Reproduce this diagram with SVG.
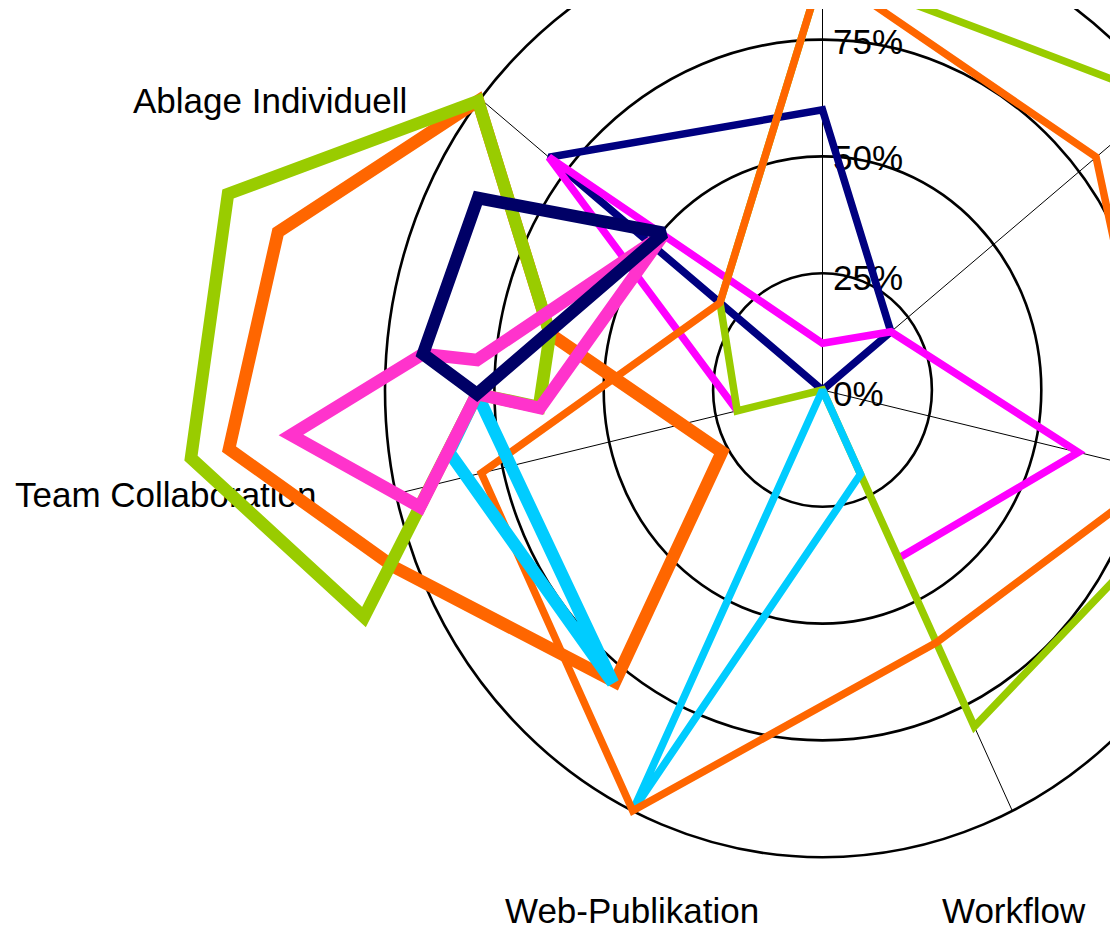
<svg xmlns="http://www.w3.org/2000/svg" width="1110" height="931" viewBox="0 0 1110 931">
<defs>
<clipPath id="plot"><rect x="0" y="9" width="1110" height="922"/></clipPath>
<style>
.ring{fill:none;stroke:#000;stroke-width:2.6}
.axis{stroke:#000;stroke-width:1}
.lbl{font-family:"Liberation Sans",Arial,sans-serif;font-size:35px;fill:#000}
.thin{fill:none;stroke-width:7.5;stroke-linejoin:miter;stroke-miterlimit:2}
.thick{fill:none;stroke-width:12.5;stroke-linejoin:miter;stroke-miterlimit:2}
</style>
</defs>
<rect width="1110" height="931" fill="#fff"/>
<g id="grid" clip-path="url(#plot)">
<ellipse class="ring" cx="822.5" cy="390" rx="109.4" ry="116.8"/>
<ellipse class="ring" cx="822.5" cy="390" rx="218.8" ry="233.6"/>
<ellipse class="ring" cx="822.5" cy="390" rx="328.1" ry="350.4"/>
<ellipse class="ring" cx="822.5" cy="390" rx="437.5" ry="467.2"/>
<line class="axis" x1="822.5" y1="390" x2="822.5" y2="-77"/>
<line class="axis" x1="822.5" y1="390" x2="1164.5" y2="99"/>
<line class="axis" x1="822.5" y1="390" x2="1248.9" y2="493.9"/>
<line class="axis" x1="822.5" y1="390" x2="1012.3" y2="810.8"/>
<line class="axis" x1="822.5" y1="390" x2="632.7" y2="810.8"/>
<line class="axis" x1="822.5" y1="390" x2="396.1" y2="493.9"/>
<line class="axis" x1="822.5" y1="390" x2="480.5" y2="99"/>
</g>
<g id="labels">
<text class="lbl" x="833" y="54">75%</text>
<text class="lbl" x="833" y="170">50%</text>
<text class="lbl" x="833" y="290">25%</text>
<text class="lbl" x="833" y="406">0%</text>
<text class="lbl" x="133" y="113">Ablage Individuell</text>
<text class="lbl" x="15" y="507">Team Collaboration</text>
<text class="lbl" x="505" y="923">Web-Publikation</text>
<text class="lbl" x="942" y="923">Workflow</text>
</g>
<g id="series-thin" clip-path="url(#plot)">
<path class="thin" stroke="#000080" d="M822.5,109.8 L890.9,331.8 L822.5,390 L548.9,157.2 Z"/>
<path class="thin" stroke="#FF00FF" d="M737.2,410.8 L548.9,157.2 L822.5,343.3 L890.9,331.8 L1078.4,452.3 L898.4,558.3"/>
<path class="thin" stroke="#99CC00" d="M822.5,-30.3 L1164.5,99 L1206.4,483.5 L974.3,726.6 L822.5,390 L737.2,410.8 L720,302.7 Z"/>
<path class="thin" stroke="#00CCFF" d="M822.5,390 L860.5,474.2 L632.7,810.8 Z"/>
<path class="thin" stroke="#FF6600" d="M822.5,-30.3 L1096,157 L1163.7,473 L936.4,642.5 L632.7,810.8 L481.3,473.1 L720,302.7 Z"/>
</g>
<g id="series-thick" clip-path="url(#plot)">
<path class="thick" stroke="#FF6600" d="M478,101 L278,232 L229,449 L394,567 L615,682 L722,452 L550,334 Z"/>
<path class="thick" stroke="#00CCFF" d="M477,394 L449,452 L613,683 Z"/>
<path class="thick" stroke="#99CC00" d="M478,101 L228,194 L191,458 L364,617 L477,394 L539,407 L550,334 Z"/>
<path class="thick" stroke="#FF33CC" d="M477,360 L423,354 L291,435 L420,507 L477,394 L540,408 L664,234 Z"/>
<path class="thick" stroke="#000066" d="M478,198 L423,354 L477,394 L664,233 Z"/>
</g>
</svg>
